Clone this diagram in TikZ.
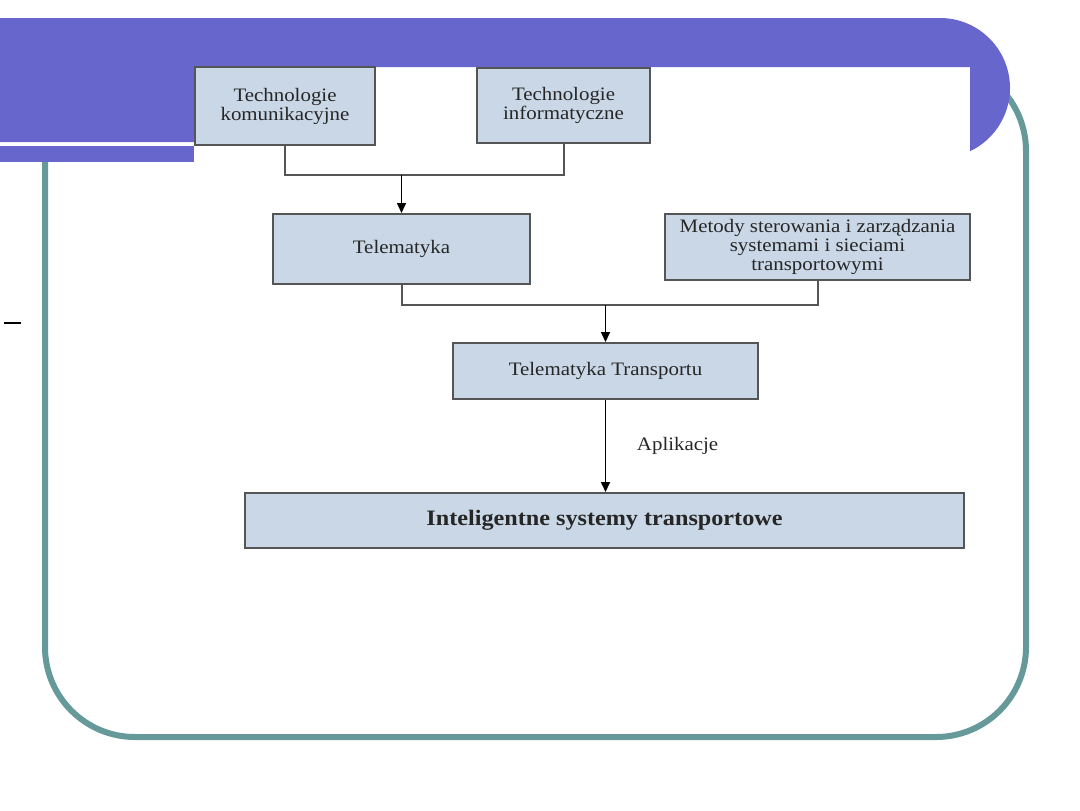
\documentclass[tikz,border=0pt]{standalone}
\usepackage{fontspec}
\setmainfont{Liberation Serif}[FakeStretch=1.1]
\usepackage{xcolor}
\usetikzlibrary{arrows.meta,positioning,calc}
\definecolor{SlidePurple}{HTML}{6666CC}
\definecolor{SlideTeal}{HTML}{669999}
\definecolor{BoxBlue}{HTML}{C9D7E6}
\definecolor{BoxEdge}{HTML}{555555}

\begin{document}
\begin{tikzpicture}[
  x=0.5pt, y=-0.5pt,
  box/.style={draw=BoxEdge,line width=1pt,fill=BoxBlue,inner sep=0pt,align=center,
    font=\fontsize{9.5}{9.5}\selectfont,text=black!85},
  link/.style={draw=BoxEdge,line width=1pt},
  arrow/.style={-{Triangle[length=5pt,width=4.5pt]},line width=0.8pt}
]
  \useasboundingbox (0,0) rectangle (1080,810);
  \begin{scope}
    \clip (0,146) -- (975,146) -- (975,0) -- (1080,0) -- (1080,810) -- (0,810) -- cycle;
    \draw[SlideTeal,line width=3pt,rounded corners=45pt] (45,61) rectangle (1026,737);
  \end{scope}
  \fill[SlidePurple] (0,18) -- (940,18) arc[start angle=-90,end angle=64.6,radius=70]
    -- (970,67) -- (194,67) -- (194,142) -- (0,142) -- cycle;
  \fill[SlidePurple] (0,146) rectangle (194,162);
  \draw[line width=1pt] (4,323) -- (21,323);

  \node[box,minimum width=90pt,minimum height=39pt] (tk) at (285,106) {Technologie\\komunikacyjne};
  \node[box,minimum width=86.5pt,minimum height=37.5pt] (ti) at (563.5,105.5) {Technologie\\informatyczne};
  \node[box,minimum width=128.5pt,minimum height=35pt] (tel) at (401.5,249) {Telematyka};
  \node[box,minimum width=152.5pt,minimum height=33pt] (met) at (817.5,247)
    {Metody sterowania i zarządzania\\systemami i sieciami\\transportowymi};
  \node[box,minimum width=152.5pt,minimum height=28pt] (tt) at (605.5,371) {Telematyka Transportu};
  \node[box,minimum width=359.5pt,minimum height=27.5pt,font=\fontsize{11}{12}\selectfont\bfseries]
    (its) at (604.5,520.5) {Inteligentne systemy transportowe};

  \coordinate (j1) at (401.5,175);
  \coordinate (j2) at (605.5,305);
  \draw[link] (tk.south) |- (j1) -| (ti.south);
  \draw[arrow] (j1) -- (tel.north);
  \draw[link] (tel.south) |- (j2) -| (met.south);
  \draw[arrow] (j2) -- (tt.north);
  \draw[arrow] (tt.south) -- node[right=12pt,font=\fontsize{9.5}{9.5}\selectfont,text=black!85] (apl) {Aplikacje} (tt.south |- its.north);
\end{tikzpicture}
\end{document}
